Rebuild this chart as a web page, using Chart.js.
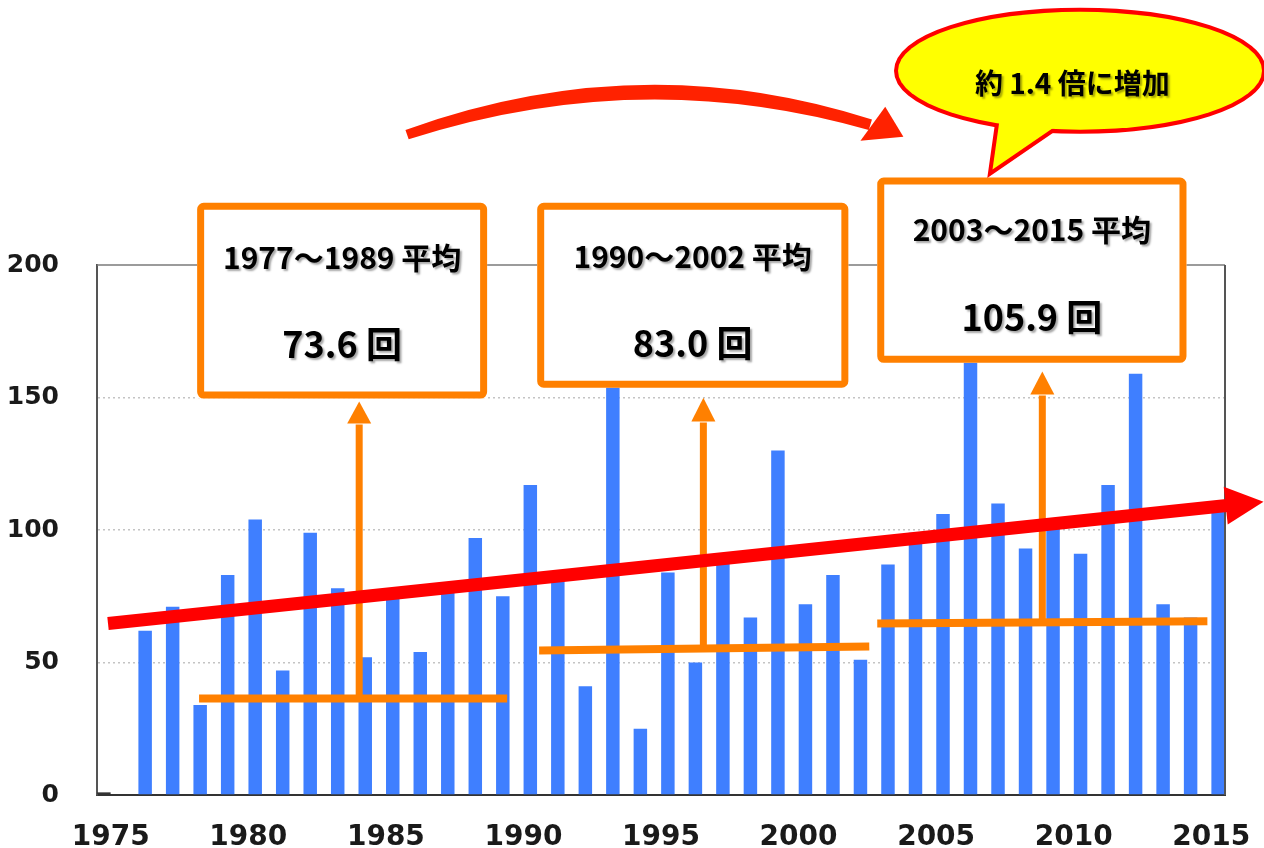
<!DOCTYPE html>
<html>
<head>
<meta charset="utf-8">
<script src="https://cdn.jsdelivr.net/npm/chart.js@4.4.1/dist/chart.umd.min.js"></script>
<style>
  html, body { margin: 0; padding: 0; background: #fff; }
  canvas { display: block; }
</style>
</head>
<body>
<canvas id="myChart" width="1264" height="848"></canvas>
<script>
// categories (years) and series
const years = [1975, 1976, 1977, 1978, 1979, 1980, 1981, 1982, 1983, 1984,
               1985, 1986, 1987, 1988, 1989, 1990, 1991, 1992, 1993, 1994,
               1995, 1996, 1997, 1998, 1999, 2000, 2001, 2002, 2003, 2004,
               2005, 2006, 2007, 2008, 2009, 2010, 2011, 2012, 2013, 2014, 2015]
// small dark stub drawn at 1975 only
const stub = [1]
const counts = [null, 62, 71, 34, 83, 104, 47, 99, 78, 52,
                77, 54, 80, 97, 75, 117, 84, 41, 185, 25,
                84, 50, 90, 67, 130, 72, 83, 51, 87, 99,
                106, 165, 110, 93, 101, 91, 117, 159, 72, 67, 110]
const yTicks = [0, 50, 100, 150, 200]
const periods = ['1977～1989 平均', '1990～2002 平均', '2003～2015 平均']
const periodMeans = [73.6, 83.0, 105.9]
const ratioText = '約 1.4 倍に増加'

const ORANGE = '#ff8000'
const RED = '#ff0000'
const JP = '"Noto Sans CJK JP", "Noto Sans", sans-serif'

function arrowHead(ctx, tip, base, half) {
    const dx = tip.x - base.x, dy = tip.y - base.y
    const len = Math.hypot(dx, dy)
    const nx = -dy / len, ny = dx / len
    ctx.beginPath()
    ctx.moveTo(tip.x, tip.y)
    ctx.lineTo(base.x + nx * half, base.y + ny * half)
    ctx.lineTo(base.x - nx * half, base.y - ny * half)
    ctx.closePath()
    ctx.fill()
}

function normal(a, b) {
    const dx = b.x - a.x, dy = b.y - a.y
    const len = Math.hypot(dx, dy)
    return { x: -dy / len, y: dx / len }
}

const overlay = {
    id: 'overlay',
    afterDatasetsDraw(chart) {
        const ctx = chart.ctx
        const a = chart.chartArea
        const X = v => chart.scales.x.getPixelForValue(v)
        const Y = v => chart.scales.y.getPixelForValue(v)
        const P = (i, v) => ({ x: X(i), y: Y(v) })
        ctx.save()

        // frame: top and right
        ctx.strokeStyle = '#7a7a7a'
        ctx.lineWidth = 1.5
        ctx.beginPath()
        ctx.moveTo(a.left, a.top)
        ctx.lineTo(a.right, a.top)
        ctx.stroke()
        ctx.strokeStyle = '#555'
        ctx.lineWidth = 2
        ctx.beginPath()
        ctx.moveTo(a.right, a.top)
        ctx.lineTo(a.right, a.bottom)
        ctx.stroke()

        // orange period lines and arrows
        const spans = [
            { x0: 3.21, y0: 36.4, x1: 14.41, y1: 36.4, ax: 9.03, ay: 36.4, tip: 148.5, base: 140.2 },
            { x0: 15.57, y0: 54.5, x1: 27.57, y1: 56.0, ax: 21.54, ay: 55.6, tip: 149.9, base: 140.9 },
            { x0: 27.86, y0: 64.7, x1: 39.86, y1: 65.6, ax: 33.86, ay: 65.4, tip: 159.8, base: 151.1 }
        ]
        ctx.strokeStyle = ORANGE
        ctx.fillStyle = ORANGE
        spans.forEach(s => {
            ctx.lineWidth = 8
            ctx.beginPath()
            ctx.moveTo(X(s.x0), Y(s.y0))
            ctx.lineTo(X(s.x1), Y(s.y1))
            ctx.stroke()
            ctx.lineWidth = 7
            ctx.beginPath()
            ctx.moveTo(X(s.ax), Y(s.ay))
            ctx.lineTo(X(s.ax), Y(s.base) + 1)
            ctx.stroke()
            arrowHead(ctx, P(s.ax, s.tip), P(s.ax, s.base), 12)
        })

        // boxes with the averages
        const boxes = [
            { x0: 3.14, x1: 13.68, top: 223.5, bottom: 149.6, cx: 8.41, t1: 202.8, t2: 170.0 },
            { x0: 15.5, x1: 26.81, top: 223.5, bottom: 153.7, cx: 21.15, t1: 203.1, t2: 170.3 },
            { x0: 27.86, x1: 39.1, top: 233.0, bottom: 163.1, cx: 33.48, t1: 213.3, t2: 180.1 }
        ]
        boxes.forEach((b, i) => {
            const l = X(b.x0), r = X(b.x1), t = Y(b.top), btm = Y(b.bottom)
            ctx.fillStyle = '#fff'
            ctx.fillRect(l, t, r - l, btm - t)
            ctx.strokeStyle = ORANGE
            ctx.lineWidth = 7
            ctx.beginPath()
            ctx.roundRect(l + 3.5, t + 3.5, r - l - 7, btm - t - 7, 3)
            ctx.stroke()

            ctx.save()
            ctx.shadowColor = 'rgba(0,0,0,0.35)'
            ctx.shadowOffsetX = 2
            ctx.shadowOffsetY = 2
            ctx.shadowBlur = 2
            ctx.fillStyle = '#000'
            ctx.textAlign = 'center'
            ctx.textBaseline = 'middle'
            ctx.font = 'bold 30px ' + JP
            ctx.fillText(periods[i], X(b.cx), Y(b.t1))
            ctx.font = 'bold 36px ' + JP
            ctx.fillText(periodMeans[i].toFixed(1) + ' 回', X(b.cx), Y(b.t2))
            ctx.restore()
        })

        // red trend arrow
        const p0 = P(-0.1, 64.7)
        const tip = P(41.9, 110.7)
        const len = Math.hypot(tip.x - p0.x, tip.y - p0.y)
        const ux = (tip.x - p0.x) / len, uy = (tip.y - p0.y) / len
        const hb = { x: tip.x - ux * 38, y: tip.y - uy * 38 }
        ctx.strokeStyle = RED
        ctx.fillStyle = RED
        ctx.lineWidth = 13
        ctx.lineCap = 'butt'
        ctx.beginPath()
        ctx.moveTo(p0.x, p0.y)
        ctx.lineTo(hb.x + ux, hb.y + uy)
        ctx.stroke()
        arrowHead(ctx, tip, hb, 19)

        // curved arrow over the top, thicker in the middle
        const c0 = P(10.77, 249.2), c1 = P(19.25, 279.3), c2 = P(27.61, 252.9)
        const n0 = normal(c0, c1), n2 = normal(c1, c2)
        const w0 = 5, wm = 7.5, w2 = 5.5
        const cw = 2 * wm - (w0 + w2) / 2
        ctx.fillStyle = '#ff2200'
        ctx.beginPath()
        ctx.moveTo(c0.x - n0.x * w0, c0.y - n0.y * w0)
        ctx.quadraticCurveTo(c1.x, c1.y - cw, c2.x - n2.x * w2, c2.y - n2.y * w2)
        ctx.lineTo(c2.x + n2.x * w2, c2.y + n2.y * w2)
        ctx.quadraticCurveTo(c1.x, c1.y + cw, c0.x + n0.x * w0, c0.y + n0.y * w0)
        ctx.closePath()
        ctx.fill()
        const h1 = P(28.81, 248.4), h2 = P(28.15, 259.7), h3 = P(27.25, 246.9)
        ctx.beginPath()
        ctx.moveTo(h1.x, h1.y)
        ctx.lineTo(h2.x, h2.y)
        ctx.lineTo(h3.x, h3.y)
        ctx.closePath()
        ctx.fill()

        // speech bubble
        const bc = P(35.23, 273.3)
        const tA = P(32.41, 262.4), tB = P(32.05, 236.0), tC = P(35.75, 262.4)
        const bubble = () => {
            ctx.beginPath()
            ctx.ellipse(bc.x, bc.y, 182, 59, 0, 0, Math.PI * 2)
        }
        const tail = () => {
            ctx.beginPath()
            ctx.moveTo(tA.x, tA.y)
            ctx.lineTo(tB.x, tB.y)
            ctx.lineTo(tC.x, tC.y)
            ctx.closePath()
        }
        ctx.strokeStyle = RED
        ctx.lineWidth = 8
        ctx.lineJoin = 'miter'
        bubble(); ctx.stroke()
        tail(); ctx.stroke()
        ctx.fillStyle = '#ffff00'
        bubble(); ctx.fill()
        tail(); ctx.fill()

        ctx.save()
        ctx.shadowColor = 'rgba(0,0,0,0.35)'
        ctx.shadowOffsetX = 2
        ctx.shadowOffsetY = 2
        ctx.shadowBlur = 2
        ctx.fillStyle = '#000'
        ctx.textAlign = 'center'
        ctx.textBaseline = 'middle'
        ctx.font = 'bold 28px ' + JP
        const bt = P(34.95, 268.4)
        ctx.fillText(ratioText, bt.x, bt.y)
        ctx.restore()

        ctx.restore()
    }
}

const data = {
    labels: years,
    datasets: [{
        data: stub,
        backgroundColor: '#333',
        categoryPercentage: 1.0,
        barPercentage: 0.98
    }, {
        data: counts,
        backgroundColor: '#3f7fff',
        categoryPercentage: 1.0,
        barPercentage: 0.98
    }]
}

const config = {
    type: 'bar',
    data: data,
    options: {
        responsive: false,
        animation: false,
        devicePixelRatio: 1,
        layout: { padding: { top: 265, right: 39, left: 0, bottom: 0 } },
        plugins: {
            legend: { display: false },
            tooltip: { enabled: false }
        },
        scales: {
            x: {
                grid: { display: false },
                border: { display: true, color: '#333', width: 2 },
                ticks: {
                    autoSkip: false,
                    maxRotation: 0,
                    padding: 18,
                    color: '#1a1a1a',
                    font: { family: '"DejaVu Sans", Verdana, sans-serif', size: 28, weight: 'bold' },
                    callback: (v, i) => years[i] % 5 === 0 ? String(years[i]) : ''
                },
                afterFit: s => {
                    s.height = 52.5
                    s.paddingLeft = 0
                    s.paddingRight = 0
                }
            },
            y: {
                min: yTicks[0],
                max: yTicks[yTicks.length - 1],
                afterBuildTicks: s => { s.ticks = yTicks.map(v => ({ value: v })) },
                grid: {
                    drawTicks: false,
                    lineWidth: 1.5,
                    color: c => (c.tick && (c.tick.value === 0 || c.tick.value === 200)) ? 'rgba(0,0,0,0)' : '#c4c4c4'
                },
                border: { display: true, color: '#555', width: 2, dash: [2, 3] },
                ticks: {
                    padding: 38,
                    color: '#1a1a1a',
                    font: { family: '"DejaVu Sans", Verdana, sans-serif', size: 25, weight: 'bold' }
                },
                afterFit: s => { s.width = 97 }
            }
        }
    },
    plugins: [overlay]
}

let myChart = new Chart(document.getElementById('myChart'), config)
</script>
</body>
</html>
